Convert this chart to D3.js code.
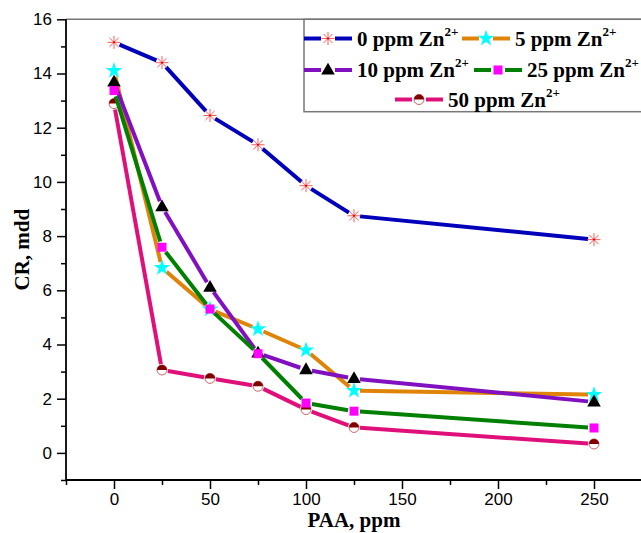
<!DOCTYPE html>
<html>
<head>
<meta charset="utf-8">
<script src="https://cdn.jsdelivr.net/npm/d3@7"></script>
<style>
body { margin: 0; background: #fff; }
</style>
</head>
<body>
<svg id="chart" width="641" height="533"></svg>
<script>
// PAA concentrations (ppm)
var paa = [0, 25, 50, 75, 100, 125, 250];

// corrosion rate values (mdd)
var cr_0 = [15.15, 14.4, 12.45, 11.37, 9.86, 8.75, 7.87];
var cr_5 = [14.1, 6.83, 5.3, 4.57, 3.79, 2.3, 2.15];
var cr_10 = [13.68, 9.08, 6.11, 3.68, 3.07, 2.74, 1.88];
var cr_25 = [13.37, 7.59, 5.31, 3.66, 1.84, 1.54, 0.92];
var cr_50 = [12.89, 3.06, 2.75, 2.46, 1.6, 0.94, 0.33];

var labels = ["0", "5", "10", "25", "50"];
var xTicks = [0, 50, 100, 150, 200, 250];
var yTicks = [0, 2, 4, 6, 8, 10, 12, 14, 16];

var series = [
    {name: labels[0], values: cr_0, color: "#0000bb", marker: "asterisk"},
    {name: labels[1], values: cr_5, color: "#e08408", marker: "star"},
    {name: labels[2], values: cr_10, color: "#8010c0", marker: "triangle"},
    {name: labels[4], values: cr_50, color: "#e0107a", marker: "halfcircle"},
    {name: labels[3], values: cr_25, color: "#008000", marker: "square"}
];

const svg = d3.select("#chart");
const pl = 66, pr = 642, pt = 19.3, pb = 480;

let x = d3.scaleLinear().domain([-25, 275]).range([pl, pr]);
let y = d3.scaleLinear().domain([-1, 16]).range([pb, pt]);

// frame top line
svg.append("line").attr("x1", pl).attr("x2", 641).attr("y1", pt).attr("y2", pt)
    .attr("stroke", "#777").attr("stroke-width", 1.5);

// axes
let xAxis = d3.axisBottom(x).tickValues(xTicks).tickSize(9).tickPadding(4).tickFormat(d3.format("d"));
let xMinor = d3.axisBottom(x).tickValues([-25, 25, 75, 125, 175, 225]).tickSize(5).tickFormat("");
let yAxis = d3.axisLeft(y).tickValues(yTicks).tickSize(9).tickPadding(5).tickFormat(d3.format("d"));
let yMinor = d3.axisLeft(y).tickValues([-1, 1, 3, 5, 7, 9, 11, 13, 15]).tickSize(5).tickFormat("");

function styleAxis(g){
    g.select(".domain").remove();
    g.selectAll("line").attr("stroke", "#000").attr("stroke-width", 1.5);
    g.selectAll("text").attr("font-family", "Liberation Sans, Arial, sans-serif")
        .attr("font-size", 17).attr("fill", "#000");
}

svg.append("g").attr("transform", "translate(0," + pb + ")").call(xAxis).call(styleAxis);
svg.append("g").attr("transform", "translate(0," + pb + ")").call(xMinor).call(styleAxis);
svg.append("g").attr("transform", "translate(" + pl + ",0)").call(yAxis).call(styleAxis);
svg.append("g").attr("transform", "translate(" + pl + ",0)").call(yMinor).call(styleAxis);

svg.append("line").attr("x1", pl).attr("x2", 641).attr("y1", pb).attr("y2", pb)
    .attr("stroke", "#000").attr("stroke-width", 1.8);
svg.append("line").attr("x1", pl).attr("x2", pl).attr("y1", pt).attr("y2", pb)
    .attr("stroke", "#000").attr("stroke-width", 1.8);

// axis titles
svg.append("text").attr("x", (pl + pr) / 2).attr("y", 527)
    .attr("text-anchor", "middle").attr("font-family", "Liberation Serif, Times New Roman, serif")
    .attr("font-weight", "bold").attr("font-size", 21).text("PAA, ppm");
svg.append("text").attr("transform", "translate(29," + ((pt + pb) / 2) + ") rotate(-90)")
    .attr("text-anchor", "middle").attr("font-family", "Liberation Serif, Times New Roman, serif")
    .attr("font-weight", "bold").attr("font-size", 21).text("CR, mdd");

// markers
function drawMarker(g, type, cx, cy){
    if(type === "asterisk"){
        let r = 6.5;
        [0, 45, 90, 135].forEach(a => {
            let rad = a * Math.PI / 180;
            g.append("line")
                .attr("x1", cx - r * Math.cos(rad)).attr("y1", cy - r * Math.sin(rad))
                .attr("x2", cx + r * Math.cos(rad)).attr("y2", cy + r * Math.sin(rad))
                .attr("stroke", "#ff5a5a").attr("stroke-width", 1);
        });
        g.append("circle").attr("cx", cx).attr("cy", cy).attr("r", 1).attr("fill", "#d00000");
    }else if(type === "star"){
        g.append("path").attr("d", d3.symbol(d3.symbolStar, 85)())
            .attr("transform", "translate(" + cx + "," + cy + ")").attr("fill", "#00ffff");
    }else if(type === "triangle"){
        g.append("path").attr("d", d3.symbol(d3.symbolTriangle, 80)())
            .attr("transform", "translate(" + cx + "," + (cy + 0.5) + ")").attr("fill", "#000");
    }else if(type === "square"){
        g.append("rect").attr("x", cx - 4.5).attr("y", cy - 4.5).attr("width", 9).attr("height", 9)
            .attr("fill", "#ff00ff");
    }else if(type === "halfcircle"){
        let r = 5;
        g.append("circle").attr("cx", cx).attr("cy", cy).attr("r", r)
            .attr("fill", "#fff").attr("stroke", "#c04040").attr("stroke-width", 0.8);
        g.append("path")
            .attr("d", "M" + (cx - r) + "," + cy + " A" + r + "," + r + " 0 0 1 " + (cx + r) + "," + cy + " Z")
            .attr("fill", "#800000");
    }
}

// line segments with small gaps around the markers
function drawSegments(g, pts, color, gap){
    for(let i = 0; i < pts.length - 1; i++){
        let [x1, y1] = pts[i];
        let [x2, y2] = pts[i + 1];
        let len = Math.hypot(x2 - x1, y2 - y1);
        if(len <= gap * 2) continue;
        let ux = (x2 - x1) / len, uy = (y2 - y1) / len;
        g.append("line")
            .attr("x1", x1 + ux * gap).attr("y1", y1 + uy * gap)
            .attr("x2", x2 - ux * gap).attr("y2", y2 - uy * gap)
            .attr("stroke", color).attr("stroke-width", 4).attr("stroke-linecap", "butt");
    }
}

let plot = svg.append("g");
series.forEach(s => {
    let pts = paa.map((d, i) => [x(d), y(s.values[i])]);
    let g = plot.append("g");
    drawSegments(g, pts, s.color, 6);
    pts.forEach(p => drawMarker(g, s.marker, p[0], p[1]));
});

// legend
svg.append("rect").attr("x", 304).attr("y", pt).attr("width", 345).attr("height", 111.7 - pt)
    .attr("fill", "#fff").attr("stroke", "#777").attr("stroke-width", 1.5);

let legendItems = [
    {s: series[0], x: 304, y: 38.5},
    {s: series[1], x: 462, y: 38.5},
    {s: series[2], x: 304, y: 70},
    {s: series[4], x: 474, y: 70},
    {s: series[3], x: 395, y: 99.5}
];

let legend = svg.append("g");
legendItems.forEach(d => {
    let g = legend.append("g");
    g.append("line").attr("x1", d.x).attr("x2", d.x + 17).attr("y1", d.y).attr("y2", d.y)
        .attr("stroke", d.s.color).attr("stroke-width", 4);
    g.append("line").attr("x1", d.x + 31).attr("x2", d.x + 48).attr("y1", d.y).attr("y2", d.y)
        .attr("stroke", d.s.color).attr("stroke-width", 4);
    drawMarker(g, d.s.marker, d.x + 24, d.y);
    let t = g.append("text").attr("x", d.x + 53).attr("y", d.y + 7)
        .attr("font-family", "Liberation Serif, Times New Roman, serif")
        .attr("font-weight", "bold").attr("font-size", 21).attr("fill", "#000");
    t.append("tspan").text(d.s.name + " ppm Zn");
    t.append("tspan").attr("dy", -10).attr("font-size", 13).text("2+");
});
</script>
</body>
</html>
